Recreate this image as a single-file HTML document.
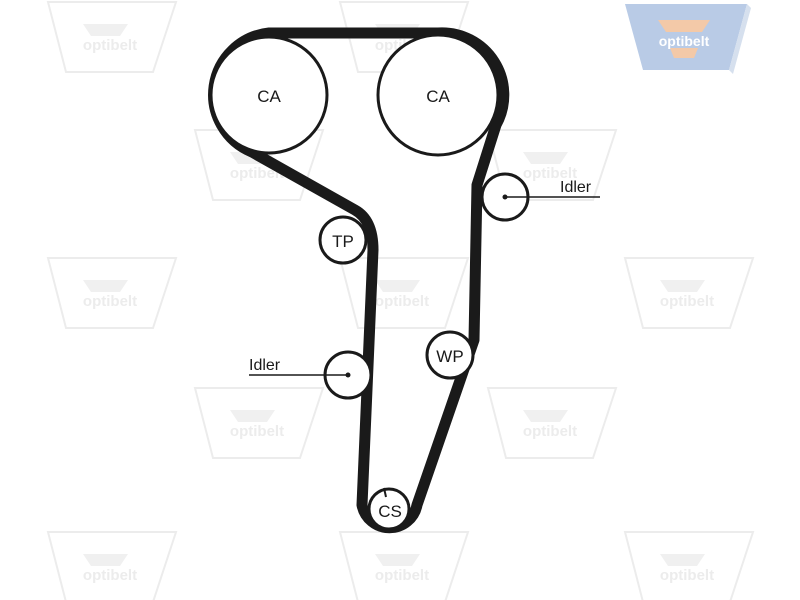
<!DOCTYPE html>
<html><head><meta charset="utf-8"><style>
html,body{margin:0;padding:0;background:#fff;}
svg{display:block;}
text{font-family:"Liberation Sans",Arial,sans-serif;}
</style></head><body>
<svg width="800" height="600" viewBox="0 0 800 600" xmlns="http://www.w3.org/2000/svg">
<defs></defs>
<g fill="none" stroke="#ececec" stroke-width="2">
<!-- watermarks -->
<g transform="translate(48,2)"><path d="M0,0 L128,0 L105,70 L18,70 Z"/><path d="M35,22 L80,22 L72,34 L43,34 Z" fill="#f0f0f0" stroke="none"/><text x="62" y="48" font-size="15" font-weight="bold" fill="#ececec" stroke="none" text-anchor="middle">optibelt</text></g>
<g transform="translate(340,2)"><path d="M0,0 L128,0 L105,70 L18,70 Z"/><path d="M35,22 L80,22 L72,34 L43,34 Z" fill="#f0f0f0" stroke="none"/><text x="62" y="48" font-size="15" font-weight="bold" fill="#ececec" stroke="none" text-anchor="middle">optibelt</text></g>
<g transform="translate(195,130)"><path d="M0,0 L128,0 L105,70 L18,70 Z"/><path d="M35,22 L80,22 L72,34 L43,34 Z" fill="#f0f0f0" stroke="none"/><text x="62" y="48" font-size="15" font-weight="bold" fill="#ececec" stroke="none" text-anchor="middle">optibelt</text></g>
<g transform="translate(488,130)"><path d="M0,0 L128,0 L105,70 L18,70 Z"/><path d="M35,22 L80,22 L72,34 L43,34 Z" fill="#f0f0f0" stroke="none"/><text x="62" y="48" font-size="15" font-weight="bold" fill="#ececec" stroke="none" text-anchor="middle">optibelt</text></g>
<g transform="translate(48,258)"><path d="M0,0 L128,0 L105,70 L18,70 Z"/><path d="M35,22 L80,22 L72,34 L43,34 Z" fill="#f0f0f0" stroke="none"/><text x="62" y="48" font-size="15" font-weight="bold" fill="#ececec" stroke="none" text-anchor="middle">optibelt</text></g>
<g transform="translate(340,258)"><path d="M0,0 L128,0 L105,70 L18,70 Z"/><path d="M35,22 L80,22 L72,34 L43,34 Z" fill="#f0f0f0" stroke="none"/><text x="62" y="48" font-size="15" font-weight="bold" fill="#ececec" stroke="none" text-anchor="middle">optibelt</text></g>
<g transform="translate(625,258)"><path d="M0,0 L128,0 L105,70 L18,70 Z"/><path d="M35,22 L80,22 L72,34 L43,34 Z" fill="#f0f0f0" stroke="none"/><text x="62" y="48" font-size="15" font-weight="bold" fill="#ececec" stroke="none" text-anchor="middle">optibelt</text></g>
<g transform="translate(195,388)"><path d="M0,0 L128,0 L105,70 L18,70 Z"/><path d="M35,22 L80,22 L72,34 L43,34 Z" fill="#f0f0f0" stroke="none"/><text x="62" y="48" font-size="15" font-weight="bold" fill="#ececec" stroke="none" text-anchor="middle">optibelt</text></g>
<g transform="translate(488,388)"><path d="M0,0 L128,0 L105,70 L18,70 Z"/><path d="M35,22 L80,22 L72,34 L43,34 Z" fill="#f0f0f0" stroke="none"/><text x="62" y="48" font-size="15" font-weight="bold" fill="#ececec" stroke="none" text-anchor="middle">optibelt</text></g>
<g transform="translate(48,532)"><path d="M0,0 L128,0 L105,70 L18,70 Z"/><path d="M35,22 L80,22 L72,34 L43,34 Z" fill="#f0f0f0" stroke="none"/><text x="62" y="48" font-size="15" font-weight="bold" fill="#ececec" stroke="none" text-anchor="middle">optibelt</text></g>
<g transform="translate(340,532)"><path d="M0,0 L128,0 L105,70 L18,70 Z"/><path d="M35,22 L80,22 L72,34 L43,34 Z" fill="#f0f0f0" stroke="none"/><text x="62" y="48" font-size="15" font-weight="bold" fill="#ececec" stroke="none" text-anchor="middle">optibelt</text></g>
<g transform="translate(625,532)"><path d="M0,0 L128,0 L105,70 L18,70 Z"/><path d="M35,22 L80,22 L72,34 L43,34 Z" fill="#f0f0f0" stroke="none"/><text x="62" y="48" font-size="15" font-weight="bold" fill="#ececec" stroke="none" text-anchor="middle">optibelt</text></g>
</g>
<!-- top-right logo -->
<g transform="translate(625,2)">
<path d="M0,2 L122,2 L104,68 L18,68 Z" fill="#b9cbe6"/>
<path d="M122,2 L126,6 L108,72 L104,68 Z" fill="#d6e0ee"/>
<path d="M33,18 L85,18 L77,30 L41,30 Z" fill="#f3c9a8"/>
<path d="M45,46 L73,46 L69,56 L49,56 Z" fill="#f3c9a8"/>
<text x="59" y="44" font-size="14" font-weight="bold" fill="#fff" text-anchor="middle">optibelt</text>
</g>
<!-- belt -->
<path d="M269,33 L438,33 A62,62 0 0 1 496,125 L477,185 L474,340 L417,505 A28,28 0 0 1 362,505 L373,250 Q373,220 355,210 L252,152 A62,62 0 0 1 269,33 Z" fill="none" stroke="#1a1a1a" stroke-width="11" stroke-linejoin="round"/>
<!-- pulleys -->
<g fill="#fff" stroke="#1a1a1a" stroke-width="3">
<circle cx="269" cy="95" r="58"/>
<circle cx="438" cy="95" r="60"/>
<circle cx="343" cy="240" r="23"/>
<circle cx="348" cy="375" r="23"/>
<circle cx="450" cy="355" r="23"/>
<circle cx="505" cy="197" r="23"/>
<circle cx="389" cy="509" r="20"/>
</g>
<line x1="384" y1="488" x2="386" y2="497" stroke="#1a1a1a" stroke-width="2"/>
<circle cx="348" cy="375" r="2.5" fill="#1a1a1a"/>
<circle cx="505" cy="197" r="2.5" fill="#1a1a1a"/>
<line x1="249" y1="375" x2="348" y2="375" stroke="#1a1a1a" stroke-width="1.5"/>
<line x1="505" y1="197" x2="600" y2="197" stroke="#1a1a1a" stroke-width="1.5"/>
<g font-size="17" fill="#1a1a1a" text-anchor="middle">
<text x="269" y="102">CA</text>
<text x="438" y="102">CA</text>
<text x="343" y="247">TP</text>
<text x="450" y="362">WP</text>
<text x="390" y="517">CS</text>
</g>
<g font-size="16" fill="#1a1a1a">
<text x="249" y="370">Idler</text>
<text x="560" y="192">Idler</text>
</g>
</svg>
</body></html>
